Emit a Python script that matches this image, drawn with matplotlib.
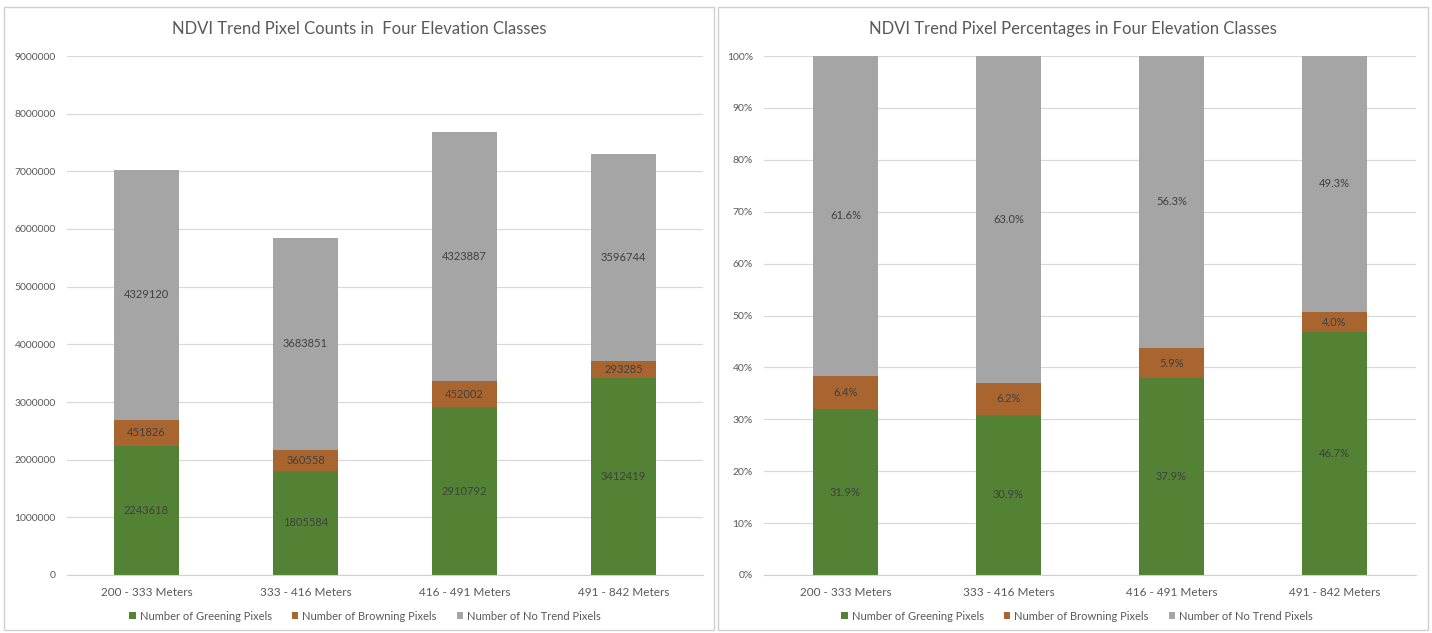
import matplotlib
matplotlib.use("Agg")
import matplotlib.pyplot as plt
from matplotlib.patches import Rectangle
import numpy as np

plt.rcParams['font.family'] = ['Lato', 'DejaVu Sans']

categories = ["200 - 333 Meters", "333 - 416 Meters", "416 - 491 Meters", "491 - 842 Meters"]
greening = [2243618, 1805584, 2910792, 3412419]
browning = [451826, 360558, 452002, 293285]
no_trend = [4329120, 3683851, 4323887, 3596744]
series_names = ["Number of Greening Pixels", "Number of Browning Pixels", "Number of No Trend Pixels"]
colors = ["#548235", "#A9652F", "#A5A5A5"]

count_ticks = np.arange(0, 9000001, 1000000)
pct_ticks = np.arange(0, 101, 10)

W, H = 1432, 633
fig = plt.figure(figsize=(W / 100, H / 100), dpi=100)
fig.patch.set_facecolor("white")


def px_axes(x0, x1, ytop, ybot):
    return fig.add_axes([x0 / W, 1 - ybot / H, (x1 - x0) / W, (ybot - ytop) / H])


counts = np.array([greening, browning, no_trend], dtype=float)
pcts = counts / counts.sum(axis=0) * 100


def draw(ax, data, fmt, ticks, tickfmt, bar_w, legend_x):
    x = np.arange(len(categories))
    bottom = np.zeros(len(categories))
    for vals, name, c in zip(data, series_names, colors):
        bars = ax.bar(x, vals, bar_w, bottom=bottom, color=c, label=name, zorder=3)
        ax.bar_label(bars, labels=[fmt(v) for v in vals], label_type="center",
                     fontsize=8, color="#404040")
        bottom = bottom + vals
    ax.set_xlim(-0.5, len(categories) - 0.5)
    ax.set_ylim(ticks[0], ticks[-1])
    ax.set_yticks(ticks)
    ax.set_yticklabels([tickfmt(t) for t in ticks])
    ax.set_xticks(x)
    ax.set_xticklabels(categories)
    ax.tick_params(axis="both", length=0, labelcolor="#595959")
    ax.tick_params(axis="y", pad=8, labelsize=7.5)
    ax.tick_params(axis="x", pad=9, labelsize=8.5)
    ax.grid(axis="y", color="#D9D9D9", linewidth=0.9, zorder=0)
    for s in ["top", "right", "left"]:
        ax.spines[s].set_visible(False)
    ax.spines["bottom"].set_color("#D0D0D0")
    ax.spines["bottom"].set_zorder(4)
    ax.legend(loc="center", bbox_to_anchor=(legend_x / W, 1 - 616 / H),
              bbox_transform=fig.transFigure, ncol=3, frameon=False,
              fontsize=8, labelcolor="#595959", handlelength=0.6, handleheight=0.6,
              handletextpad=0.35, columnspacing=1.8)


# panel frames and titles centred on each panel
panels = [(4, 714, "NDVI Trend Pixel Counts in  Four Elevation Classes"),
          (718, 1428, "NDVI Trend Pixel Percentages in Four Elevation Classes")]
for x0, x1, title in panels:
    fig.patches.append(Rectangle((x0 / W, 1 - 630 / H), (x1 - x0) / W, (630 - 7) / H,
                                 transform=fig.transFigure, fill=False,
                                 edgecolor="#D0D0D0", linewidth=1.0))
    fig.text((x0 + x1) / 2 / W, 1 - 29 / H, title, ha="center", va="center",
             fontsize=12, color="#595959")

ax1 = px_axes(67, 703, 56, 575)
draw(ax1, counts, lambda v: f"{v:.0f}", count_ticks, lambda t: f"{t:d}", 0.405, 365)

ax2 = px_axes(764, 1416, 56, 575)
draw(ax2, pcts, lambda v: f"{v:.1f}%", pct_ticks, lambda t: f"{t:d}%", 0.395, 1077)

fig.savefig("out.png", dpi=100, facecolor="white")
